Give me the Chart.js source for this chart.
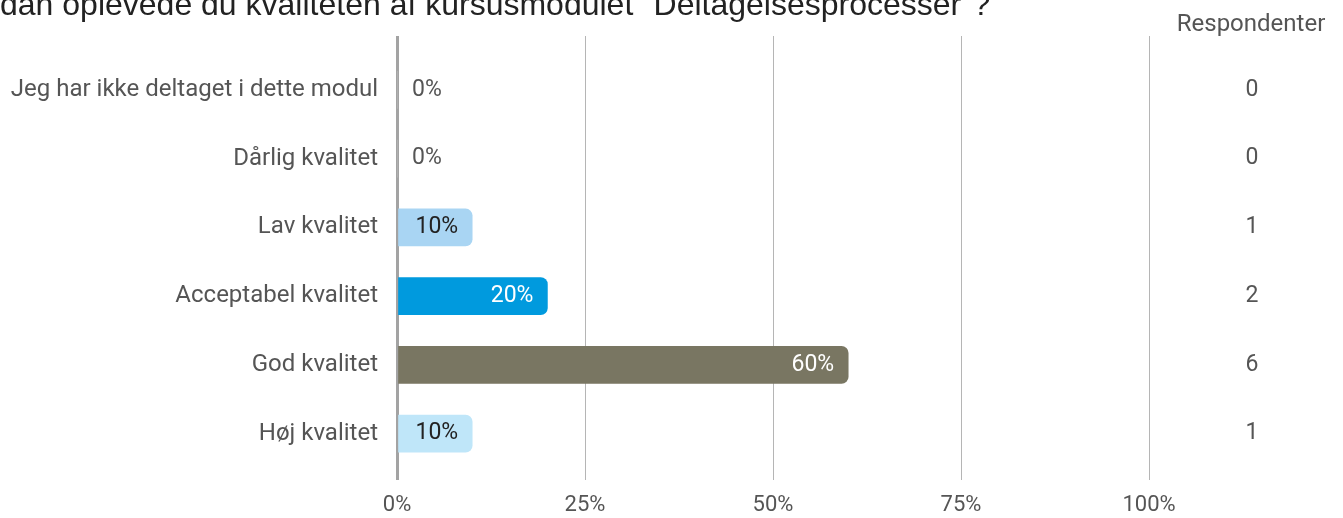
<!DOCTYPE html>
<html>
<head>
<meta charset="utf-8">
<script src="https://cdn.jsdelivr.net/npm/chart.js@4"></script>
<style>
    html, body { margin: 0; padding: 0; background: #fff; overflow: hidden; }
    #wrap { position: relative; width: 1343px; height: 518px; }
    #title {
        position: absolute; left: 0; top: -12px; white-space: nowrap;
        font: 32px "Liberation Sans", Arial, sans-serif; line-height: 32px; color: #222;
    }
</style>
</head>
<body>
<div id="wrap">
    <canvas id="chart" width="1343" height="518"></canvas>
    <div id="title">dan oplevede du kvaliteten af kursusmodulet "Deltagelsesprocesser"?</div>
</div>
<script>
// Answer categories, top to bottom
const categories = [
    'Jeg har ikke deltaget i dette modul',
    'Dårlig kvalitet',
    'Lav kvalitet',
    'Acceptabel kvalitet',
    'God kvalitet',
    'Høj kvalitet'
];
// Share of respondents (%)
const percentages = [0, 0, 10, 20, 60, 10];
// Number of respondents
const respondents = [0, 0, 1, 2, 6, 1];
const xTicks = [0, 25, 50, 75, 100];

const barColors = ['#cccccc', '#cccccc', '#a9d5f3', '#009ade', '#797662', '#bfe6f9'];
const labelColors = ['#555555', '#555555', '#222222', '#ffffff', '#ffffff', '#222222'];
const textColor = '#555555';
const font = 'Roboto, "Noto Sans", sans-serif';

// Value labels inside the bars + respondent column
const labelPlugin = {
    id: 'labels',
    afterDatasetsDraw(chart) {
        const ctx = chart.ctx;
        const meta = chart.getDatasetMeta(0);
        const yScale = chart.scales.y;
        ctx.save();
        ctx.font = '23px ' + font;
        ctx.textBaseline = 'middle';
        meta.data.forEach((bar, i) => {
            const v = percentages[i];
            if (v === 0) {
                ctx.textAlign = 'left';
                ctx.fillStyle = textColor;
                ctx.fillText(v + '%', bar.base + 15, bar.y);
            } else {
                ctx.textAlign = 'right';
                ctx.fillStyle = labelColors[i];
                ctx.fillText(v + '%', bar.x - 14, bar.y);
            }
        });
        // Respondenter column
        ctx.textAlign = 'center';
        ctx.fillStyle = textColor;
        respondents.forEach((n, i) => {
            ctx.fillText(String(n), 1252, yScale.getPixelForValue(i));
        });
        ctx.font = '24px ' + font;
        ctx.fillText('Respondenter', 1251, 25);
        ctx.restore();
    }
};

new Chart(document.getElementById('chart'), {
    type: 'bar',
    data: {
        datasets: [{
            data: percentages.map((v, i) => ({ x: v, y: i })),
            backgroundColor: barColors,
            borderWidth: 0,
            borderRadius: 7,
            borderSkipped: 'start',
            barThickness: 37
        }]
    },
    options: {
        indexAxis: 'y',
        responsive: false,
        animation: false,
        layout: { padding: { top: 36, right: 194, left: 0, bottom: 0 } },
        scales: {
            x: {
                min: 0,
                max: 100,
                afterBuildTicks: (scale) => { scale.ticks = xTicks.map(v => ({ value: v })); },
                afterFit: (scale) => { scale.height = 38; },
                border: { display: false },
                grid: {
                    drawTicks: false,
                    color: (c) => c.tick && c.tick.value === 0 ? '#a3a3a3' : '#b5b5b5',
                    lineWidth: (c) => c.tick && c.tick.value === 0 ? 3 : 1
                },
                ticks: {
                    padding: 12,
                    color: textColor,
                    font: { family: font, size: 22 },
                    callback: (v) => v + '%'
                }
            },
            y: {
                type: 'linear',
                reverse: true,
                offset: false,
                min: -0.785,
                max: 5.675,
                afterBuildTicks: (scale) => { scale.ticks = categories.map((c, i) => ({ value: i })); },
                afterFit: (scale) => { scale.width = 397; },
                border: { display: false },
                grid: { display: false, drawTicks: false },
                ticks: {
                    padding: 19,
                    color: textColor,
                    font: { family: font, size: 24 },
                    callback: (v) => categories[v]
                }
            }
        },
        plugins: {
            legend: { display: false },
            tooltip: { enabled: false }
        }
    },
    plugins: [labelPlugin]
});
</script>
</body>
</html>
